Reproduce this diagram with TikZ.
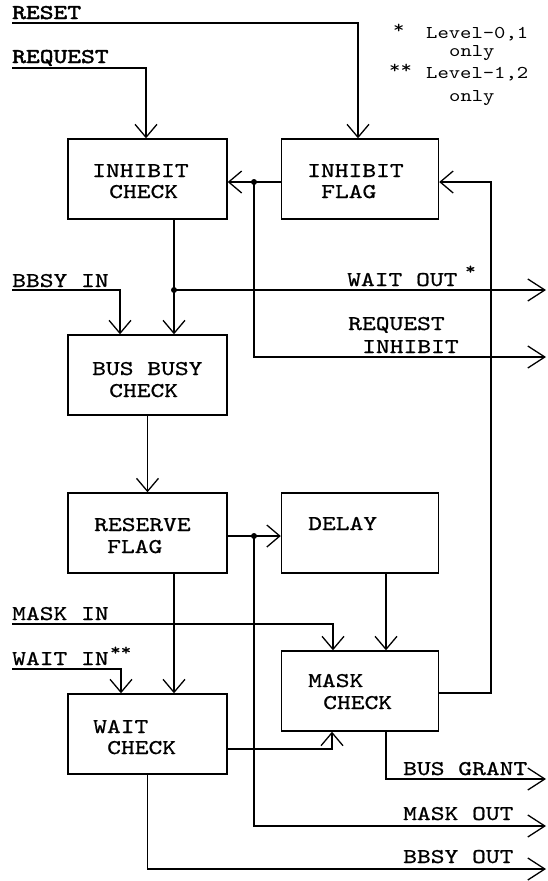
\documentclass[tikz,border=0pt]{standalone}
\usepackage{fontspec}
\newfontfamily\tw[FakeStretch=1.25,FakeBold=0.8]{lmmono10-regular.otf}
\newfontfamily\twb[FakeStretch=1.25,FakeBold=2.2]{lmmono10-regular.otf}
\newfontfamily\twl[FakeStretch=1.2]{lmmono10-regular.otf}
\usetikzlibrary{arrows.meta}
\begin{document}
\begin{tikzpicture}[x=1pt,y=-1pt,
  blk/.style={draw, line width=1.4pt, minimum width=157pt, minimum height=80pt, inner sep=0pt},
  wire/.style={line width=1.3pt},
  arr/.style={wire, -{Straight Barb[length=13pt,width=22pt,line width=1.3pt]}},
  outarr/.style={wire, -{Straight Barb[length=17pt,width=22pt,line width=1.3pt]}},
  lbl/.style={anchor=base west, inner sep=0pt, font=\tw\fontsize{21}{21}\selectfont},
  blbl/.style={lbl, font=\twb\fontsize{21}{21}\selectfont},
  leg/.style={anchor=base west, inner sep=0pt, font=\twl\fontsize{18}{18}\selectfont},
  star/.style={anchor=base west, inner sep=0pt, font=\tw\fontsize{16}{16}\selectfont},
  dot/.style={circle, fill, inner sep=0pt, minimum size=6pt}]
\useasboundingbox (0,0) rectangle (548,881);

% blocks
\node[blk, minimum width=159pt] (ichk) at (147.5,179) {};
\node[blk] (iflag) at (360,179) {};
\node[blk, minimum width=159pt] (bbc) at (147.5,375) {};
\node[blk, minimum width=159pt] (rflag) at (147.5,533) {};
\node[blk] (delay) at (360,533) {};
\node[blk] (mchk) at (360,691) {};
\node[blk, minimum width=159pt] (wchk) at (147.5,734) {};

% block texts
\node[lbl] (t-ic1) at (92,177) {INHIBIT};
\node[lbl] (t-ic2) at (109,198) {CHECK};
\node[lbl] (t-if1) at (307,177) {INHIBIT};
\node[lbl] (t-if2) at (321,198) {FLAG};
\node[lbl] (t-bb1) at (92,375) {BUS BUSY};
\node[lbl] (t-bb2) at (109,397) {CHECK};
\node[lbl] (t-rf1) at (94,531) {RESERVE};
\node[lbl] (t-rf2) at (107,553) {FLAG};
\node[lbl] (t-dl) at (308,530) {DELAY};
\node[lbl] (t-mc1) at (308,687) {MASK};
\node[lbl] (t-mc2) at (323,709) {CHECK};
\node[lbl] (t-wc1) at (93,733) {WAIT};
\node[lbl] (t-wc2) at (107,754) {CHECK};

% signal labels
\node[blbl] (t-reset) at (12,19) {RESET};
\node[blbl] (t-req) at (12,63) {REQUEST};
\node[lbl] (t-bbin) at (12,287) {BBSY IN};
\node[lbl] (t-wo) at (347,286) {WAIT OUT};
\node[star] (t-wos) at (465,274) {*};
\node[lbl] (t-ri1) at (348,330) {REQUEST};
\node[lbl] (t-ri2) at (362,353) {INHIBIT};
\node[lbl] (t-mi) at (12,620) {MASK IN};
\node[lbl] (t-wi) at (12,665) {WAIT IN};
\node[star] (t-wis) at (110,655) {**};
\node[lbl] (t-bg) at (403,775) {BUS GRANT};
\node[lbl] (t-mo) at (403,820) {MASK OUT};
\node[lbl] (t-bo) at (403,863) {BBSY OUT};

% legend
\node[leg] (l1) at (393,33) {*};
\node[leg] (l2) at (426,38) {Level-0,1};
\node[leg] (l3) at (449,56) {only};
\node[leg] (l4) at (389,73) {**};
\node[leg] (l5) at (426,78) {Level-1,2};
\node[leg] (l6) at (449,101) {only};

% coordinates
\coordinate (rs) at (12,23);
\coordinate (rq) at (12,68);
\coordinate (bb) at (12,290);
\coordinate (mi) at (12,624);
\coordinate (wi) at (12,669);
\coordinate (woE) at (546,290);
\coordinate (riE) at (546,357);
\coordinate (bgE) at (546,779);
\coordinate (moE) at (546,826);
\coordinate (boE) at (546,869);
\coordinate (fb) at (491,182);
\node[dot] (j1) at (254,182) {};
\node[dot] (j2) at (174,290) {};
\node[dot] (j3) at (254,536) {};

% connectors
\draw[arr] (rs) -| ([xshift=-2pt]iflag.north);
\draw[arr] (rq) -| ([xshift=-1.5pt]ichk.north);
\draw[arr] ([yshift=-3pt]iflag.west) -- ([yshift=-3pt]ichk.east);
\draw[outarr] (j1.center) |- (riE);
\draw[arr] ([xshift=26.5pt]ichk.south) -- ([xshift=26.5pt]bbc.north);
\draw[outarr] (j2.center) -- (woE);
\draw[arr] (bb) -| ([xshift=-27.5pt]bbc.north);
\draw[arr] (bbc.south) -- (rflag.north);
\draw[arr] ([yshift=-3pt]rflag.east) -- ([yshift=-3pt]delay.west);
\draw[outarr] (j3.center) |- (moE);
\draw[arr] ([xshift=26.5pt]rflag.south) -- ([xshift=26.5pt]wchk.north);
\draw[arr] (mi) -| ([xshift=-27pt]mchk.north);
\draw[arr] ([xshift=26pt]delay.south) -- ([xshift=26pt]mchk.north);
\draw[arr] (wi) -| ([xshift=-26.5pt]wchk.north);
\draw[arr] ([yshift=-15pt]wchk.east) -| ([xshift=-28pt]mchk.south);
\draw[outarr] ([xshift=26pt]mchk.south) |- (bgE);
\draw[outarr] (wchk.south) |- (boE);
\draw[arr] ([yshift=-2pt]mchk.east) -| (fb) -- ([yshift=-3pt]iflag.east);
\end{tikzpicture}
\end{document}
